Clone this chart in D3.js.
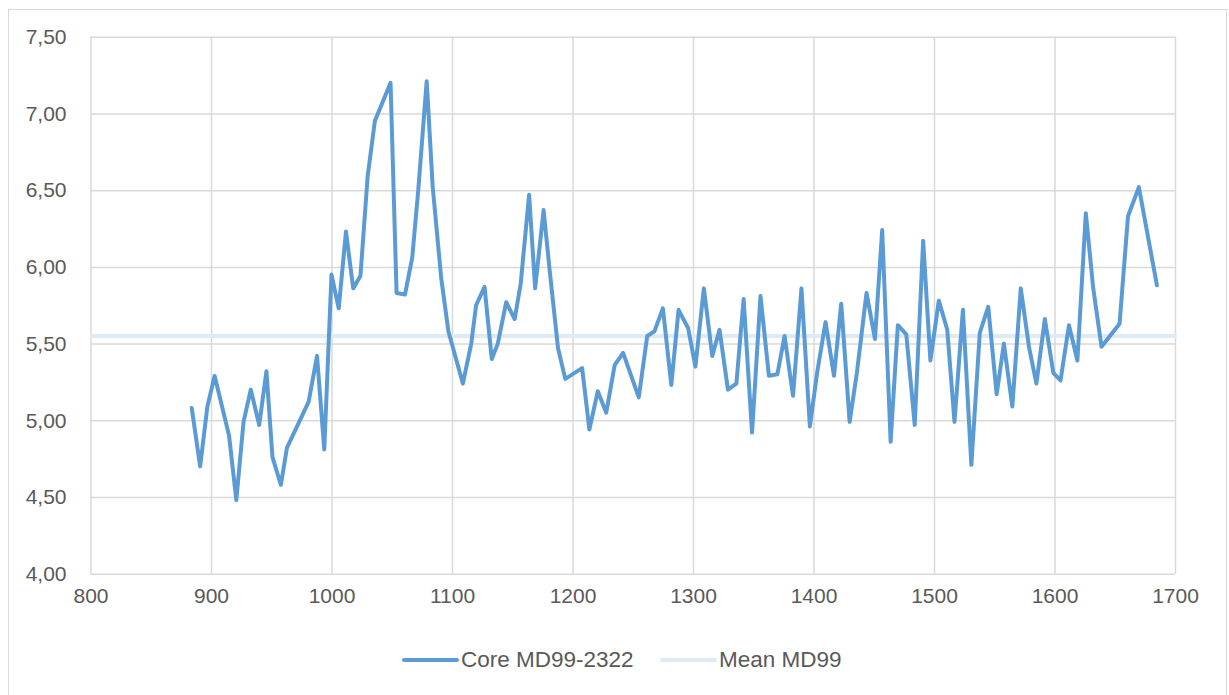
<!DOCTYPE html>
<html><head><meta charset="utf-8">
<script src="https://cdn.jsdelivr.net/npm/d3@7"></script>
<style>
html,body{margin:0;padding:0;background:#fff;}
svg text{font-family:"Liberation Sans",Arial,sans-serif;fill:#595959;}
</style></head>
<body>
<svg id="chart" width="1229" height="695"></svg>
<script>
const years = [884,891,897,903,915,921,927,933,940,946,951,958,963,981,988,994,1000,1006,1012,1018,1024,1030,1036,1049,1054,1061,1067,1072,1079,1084,1091,1097,1109,1116,1120,1127,1133,1138,1145,1152,1157,1164,1169,1176,1181,1188,1194,1208,1214,1221,1228,1235,1242,1255,1262,1268,1275,1282,1288,1296,1302,1309,1316,1322,1329,1336,1342,1349,1356,1363,1370,1376,1383,1390,1397,1403,1410,1417,1423,1430,1436,1444,1451,1457,1464,1470,1477,1484,1491,1497,1504,1511,1517,1524,1531,1538,1545,1552,1558,1565,1572,1579,1585,1592,1599,1605,1612,1619,1626,1632,1639,1654,1661,1670,1685];
const core = [5.08,4.70,5.09,5.29,4.90,4.48,4.99,5.20,4.97,5.32,4.76,4.58,4.82,5.12,5.42,4.81,5.95,5.73,6.23,5.86,5.94,6.59,6.95,7.20,5.83,5.82,6.06,6.50,7.21,6.52,5.93,5.58,5.24,5.50,5.75,5.87,5.40,5.50,5.77,5.66,5.89,6.47,5.86,6.37,5.98,5.47,5.27,5.34,4.94,5.19,5.05,5.36,5.44,5.15,5.55,5.58,5.73,5.23,5.72,5.60,5.35,5.86,5.42,5.59,5.20,5.24,5.79,4.92,5.81,5.29,5.30,5.55,5.16,5.86,4.96,5.31,5.64,5.29,5.76,4.99,5.31,5.83,5.53,6.24,4.86,5.62,5.56,4.97,6.17,5.39,5.78,5.59,4.99,5.72,4.71,5.57,5.74,5.17,5.50,5.09,5.86,5.47,5.24,5.66,5.31,5.26,5.62,5.39,6.35,5.87,5.48,5.63,6.33,6.52,5.88];
const meanValue = 5.55;
const xTicks = [800,900,1000,1100,1200,1300,1400,1500,1600,1700];
const yTicks = [4.00,4.50,5.00,5.50,6.00,6.50,7.00,7.50];
const seriesNames = ["Core MD99-2322","Mean MD99"];
const colors = ["#5B9BD5","#DEEAF6"];

const svg = d3.select("#chart");
svg.append("rect").attr("x",8.5).attr("y",9.5).attr("width",1218).attr("height",700)
  .attr("fill","#fff").attr("stroke","#d9d9d9").attr("stroke-width",1);

const L=90.5,R=1175,T=36.7,B=573.8;
const x = d3.scaleLinear().domain([800,1700]).range([L,R]);
const y = d3.scaleLinear().domain([4,7.5]).range([B,T]);

const fmt = v => v.toFixed(2).replace(".",",");

// grid
const gy = svg.append("g").attr("transform",`translate(${L},0)`)
  .call(d3.axisLeft(y).tickValues(yTicks).tickSize(-(R-L)).tickFormat(fmt).tickPadding(24));
gy.select(".domain").remove();
gy.selectAll("line").attr("stroke","#d9d9d9").attr("stroke-width",1.5);
gy.selectAll("text").attr("font-size",21).style("fill","#595959");

const gx = svg.append("g").attr("transform",`translate(0,${B})`)
  .call(d3.axisBottom(x).tickValues(xTicks).tickSize(-(B-T)).tickFormat(d3.format("d")).tickPadding(14));
gx.select(".domain").remove();
gx.selectAll("line").attr("stroke","#d9d9d9").attr("stroke-width",1.5);
gx.selectAll("text").attr("font-size",21).style("fill","#595959");

// mean line
svg.append("line").attr("x1",x(800)).attr("x2",x(1700)+2).attr("y1",y(meanValue)).attr("y2",y(meanValue))
  .attr("stroke",colors[1]).attr("stroke-width",4);

// core line
const data = years.map((yr,i)=>({yr,v:core[i]}));
svg.append("path").datum(data)
  .attr("fill","none").attr("stroke",colors[0]).attr("stroke-width",4)
  .attr("stroke-linejoin","round").attr("stroke-linecap","round")
  .attr("d",d3.line().x(d=>x(d.yr)).y(d=>y(d.v)));

// legend
const legendItems = [{x:404,name:seriesNames[0],c:colors[0]},{x:662,name:seriesNames[1],c:colors[1]}];
legendItems.forEach(it=>{
  svg.append("line").attr("x1",it.x).attr("x2",it.x+53).attr("y1",660).attr("y2",660)
    .attr("stroke",it.c).attr("stroke-width",4).attr("stroke-linecap","round");
  svg.append("text").attr("x",it.x+57).attr("y",667).attr("font-size",22.5).text(it.name);
});
</script>
</body></html>
